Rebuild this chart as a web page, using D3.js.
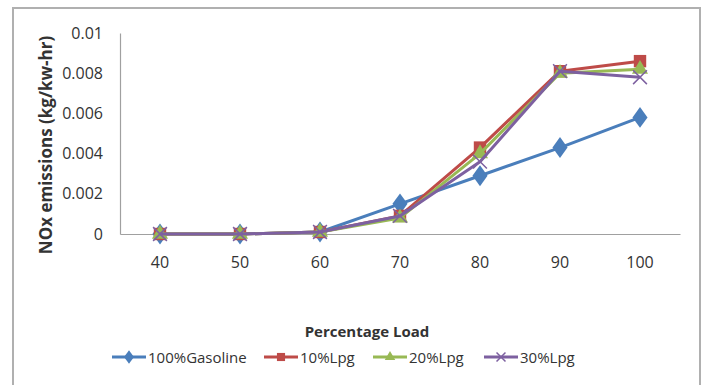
<!DOCTYPE html>
<html>
<head>
<meta charset="utf-8">
<script src="https://cdn.jsdelivr.net/npm/d3@7"></script>
<style>
  body { margin: 0; background: #fff; }
  svg text { font-family: "Open Sans", "Noto Sans", sans-serif; fill: #333; }
</style>
</head>
<body>
<svg id="chart" width="705" height="385"></svg>
<script>
const loads = ["40", "50", "60", "70", "80", "90", "100"];
const yTicks = [0, 0.002, 0.004, 0.006, 0.008, 0.01];
const gasoline = [0, 0, 0.0001, 0.0015, 0.0029, 0.0043, 0.0058];
const lpg10 = [0, 0, 0.0001, 0.0009, 0.0043, 0.0081, 0.0086];
const lpg20 = [0, 0, 0.0001, 0.0008, 0.0040, 0.0080, 0.0082];
const lpg30 = [0, 0, 0.0001, 0.0009, 0.0036, 0.0081, 0.0078];

const series = [
  {name: "100%Gasoline", values: gasoline, color: "#4a7ebb", marker: "diamond"},
  {name: "10%Lpg", values: lpg10, color: "#be4b48", marker: "square"},
  {name: "20%Lpg", values: lpg20, color: "#98b954", marker: "triangle"},
  {name: "30%Lpg", values: lpg30, color: "#7d60a0", marker: "x"}
];

const svg = d3.select("#chart");

// chart frame
svg.append("rect")
  .attr("x", 13).attr("y", 8)
  .attr("width", 687).attr("height", 390)
  .attr("fill", "none")
  .attr("stroke", "#b0b0b0")
  .attr("stroke-width", 2);

const mLeft = 120, mRight = 680, mTop = 33, mBottom = 234;

const x = d3.scaleBand().domain(loads).range([mLeft, mRight]);
const y = d3.scaleLinear().domain([0, 0.01]).range([mBottom, mTop]);

// axes
const yAxis = svg.append("g")
  .attr("transform", "translate(" + mLeft + ",0)")
  .call(d3.axisLeft(y).tickValues(yTicks).tickSize(0).tickPadding(17)
    .tickFormat(d => d === 0 ? "0" : String(+d.toFixed(3))));
yAxis.select(".domain").attr("stroke", "#a0a0a0").attr("stroke-width", 1.2);
yAxis.selectAll("text").attr("font-size", 16).attr("fill", "#333");

const xAxis = svg.append("g")
  .attr("transform", "translate(0," + mBottom + ")")
  .call(d3.axisBottom(x).tickSize(0).tickPadding(23));
xAxis.select(".domain").attr("stroke", "#a0a0a0").attr("stroke-width", 1.2);
xAxis.selectAll("text").attr("font-size", 16).attr("fill", "#333");

// titles
svg.append("text")
  .attr("transform", "translate(52,145) rotate(-90)")
  .attr("text-anchor", "middle")
  .attr("font-size", 17)
  .attr("font-weight", "bold")
  .text("NOx emissions (kg/kw-hr)");

svg.append("text")
  .attr("x", 367).attr("y", 337)
  .attr("text-anchor", "middle")
  .attr("font-size", 15)
  .attr("font-weight", "bold")
  .text("Percentage Load");

function drawMarker(g, type, color, s) {
  if (type === "diamond") {
    g.append("path").attr("d", d3.symbol().type(d3.symbolDiamond).size(s * 9)())
      .attr("fill", color)
      .attr("transform", "scale(1.25,1)");
  } else if (type === "square") {
    g.append("path").attr("d", d3.symbol().type(d3.symbolSquare).size(s * 11)())
      .attr("fill", color);
  } else if (type === "triangle") {
    g.append("path").attr("d", d3.symbol().type(d3.symbolTriangle).size(s * 8)())
      .attr("fill", color);
  } else {
    g.append("path").attr("d", d3.symbol().type(d3.symbolX).size(s * 9)())
      .attr("fill", "none").attr("stroke", color).attr("stroke-width", 1.5);
  }
}

const line = d3.line()
  .x((d, i) => x(loads[i]) + x.bandwidth() / 2)
  .y(d => y(d));

series.forEach(s => {
  svg.append("path")
    .datum(s.values)
    .attr("fill", "none")
    .attr("stroke", s.color)
    .attr("stroke-width", 3)
    .attr("stroke-linejoin", "round")
    .attr("d", line);
  s.values.forEach((v, i) => {
    const g = svg.append("g")
      .attr("transform", "translate(" + (x(loads[i]) + x.bandwidth() / 2) + "," + y(v) + ")");
    drawMarker(g, s.marker, s.color, 14);
  });
});

// legend
const legendX = [112, 264, 373, 484];
series.forEach((s, i) => {
  const g = svg.append("g").attr("transform", "translate(" + legendX[i] + ",357)");
  g.append("line").attr("x1", 0).attr("x2", 34)
    .attr("stroke", s.color).attr("stroke-width", 3);
  const m = g.append("g").attr("transform", "translate(17,0)");
  drawMarker(m, s.marker, s.color, 6);
  g.append("text").attr("x", 36).attr("y", 5.5)
    .attr("font-size", 15)
    .text(s.name);
});
</script>
</body>
</html>
